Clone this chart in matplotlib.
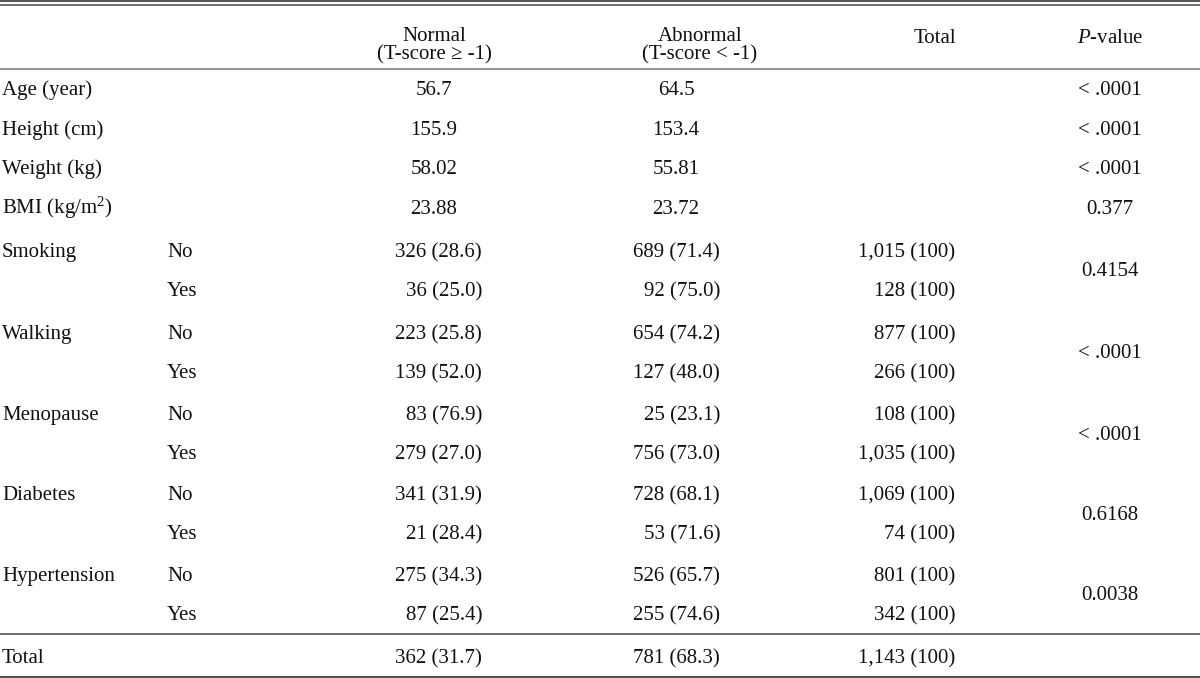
import matplotlib
matplotlib.use("Agg")
import matplotlib.pyplot as plt

plt.rcParams["mathtext.fontset"] = "custom"
plt.rcParams["mathtext.rm"] = "Liberation Serif"
plt.rcParams["mathtext.it"] = "Liberation Serif:italic"
plt.rcParams["mathtext.bf"] = "Liberation Serif:bold"

# ---- data ----
header_normal = "Normal\n(T-score ≥ -1)"
header_abnormal = "Abnormal\n(T-score < -1)"
header_total = "Total"
header_p = "$\\mathit{P}$-value"

cont_labels = ["Age (year)", "Height (cm)", "Weight (kg)", "BMI (kg/m$^{\\mathrm{2}}$)"]
cont_normal = ["56.7", "155.9", "58.02", "23.88"]
cont_abnormal = ["64.5", "153.4", "55.81", "23.72"]
cont_p = ["< .0001", "< .0001", "< .0001", "0.377"]

cat_labels = ["Smoking", "Walking", "Menopause", "Diabetes", "Hypertension"]
sub_labels = ["No", "Yes"]
cat_normal = [["326 (28.6)", "36 (25.0)"], ["223 (25.8)", "139 (52.0)"],
              ["83 (76.9)", "279 (27.0)"], ["341 (31.9)", "21 (28.4)"],
              ["275 (34.3)", "87 (25.4)"]]
cat_abnormal = [["689 (71.4)", "92 (75.0)"], ["654 (74.2)", "127 (48.0)"],
                ["25 (23.1)", "756 (73.0)"], ["728 (68.1)", "53 (71.6)"],
                ["526 (65.7)", "255 (74.6)"]]
cat_total = [["1,015 (100)", "128 (100)"], ["877 (100)", "266 (100)"],
             ["108 (100)", "1,035 (100)"], ["1,069 (100)", "74 (100)"],
             ["801 (100)", "342 (100)"]]
cat_p = ["0.4154", "< .0001", "< .0001", "0.6168", "0.0038"]

total_label = "Total"
total_normal = "362 (31.7)"
total_abnormal = "781 (68.3)"
total_total = "1,143 (100)"

# ---- layout (pixel coordinates) ----
W, H = 1200, 678
fig = plt.figure(figsize=(W / 100, H / 100), dpi=100)
ax = fig.add_axes([0, 0, 1, 1])
ax.set_xlim(0, W)
ax.set_ylim(H, 0)
ax.axis("off")

FS = 15
font = dict(family="Liberation Serif", fontsize=FS, color="#111111")
B = 6  # centre -> baseline offset

x_lab, x_sub = 2, 167
x_norm_c, x_abn_c, x_tot_c, x_p_c = 434, 676, 935, 1110
x_norm_r, x_abn_r, x_tot_r = 482, 720, 955

# lines
lc = "#555555"
ax.plot([0, W], [1, 1], color=lc, lw=1.5)
ax.plot([0, W], [4.8, 4.8], color=lc, lw=1.2)
ax.plot([0, W], [69, 69], color="#888888", lw=1.3)
ax.plot([0, W], [634, 634], color=lc, lw=1.2)
ax.plot([0, W], [676.5, 676.5], color=lc, lw=1.5)


def put(x, y, s, ha):
    ax.text(x, y + B, s, ha=ha, va="baseline", **font)


# header
put(x_norm_c, 35, "Normal", "center")
put(x_norm_c, 53, "(T-score ≥ -1)", "center")
put(700, 35, "Abnormal", "center")
put(700, 53, "(T-score < -1)", "center")
put(x_tot_c, 37, header_total, "center")
put(x_p_c, 37, header_p, "center")

# continuous rows
cont_y = [89, 129, 168, 208]
for i, y in enumerate(cont_y):
    put(x_lab, y, cont_labels[i], "left")
    put(x_norm_c, y, cont_normal[i], "center")
    put(x_abn_c, y, cont_abnormal[i], "center")
    put(x_p_c, y, cont_p[i], "center")

# categorical rows
cat_y = [(251, 290), (333, 372), (414, 453), (494, 533), (575, 614)]
for i, (y1, y2) in enumerate(cat_y):
    put(x_lab, y1, cat_labels[i], "left")
    for j, y in enumerate((y1, y2)):
        put(x_sub, y, sub_labels[j], "left")
        put(x_norm_r, y, cat_normal[i][j], "right")
        put(x_abn_r, y, cat_abnormal[i][j], "right")
        put(x_tot_r, y, cat_total[i][j], "right")
    put(x_p_c, (y1 + y2) / 2, cat_p[i], "center")

# total row
put(x_lab, 657, total_label, "left")
put(x_norm_r, 657, total_normal, "right")
put(x_abn_r, 657, total_abnormal, "right")
put(x_tot_r, 657, total_total, "right")

fig.savefig("out.png", dpi=100)
